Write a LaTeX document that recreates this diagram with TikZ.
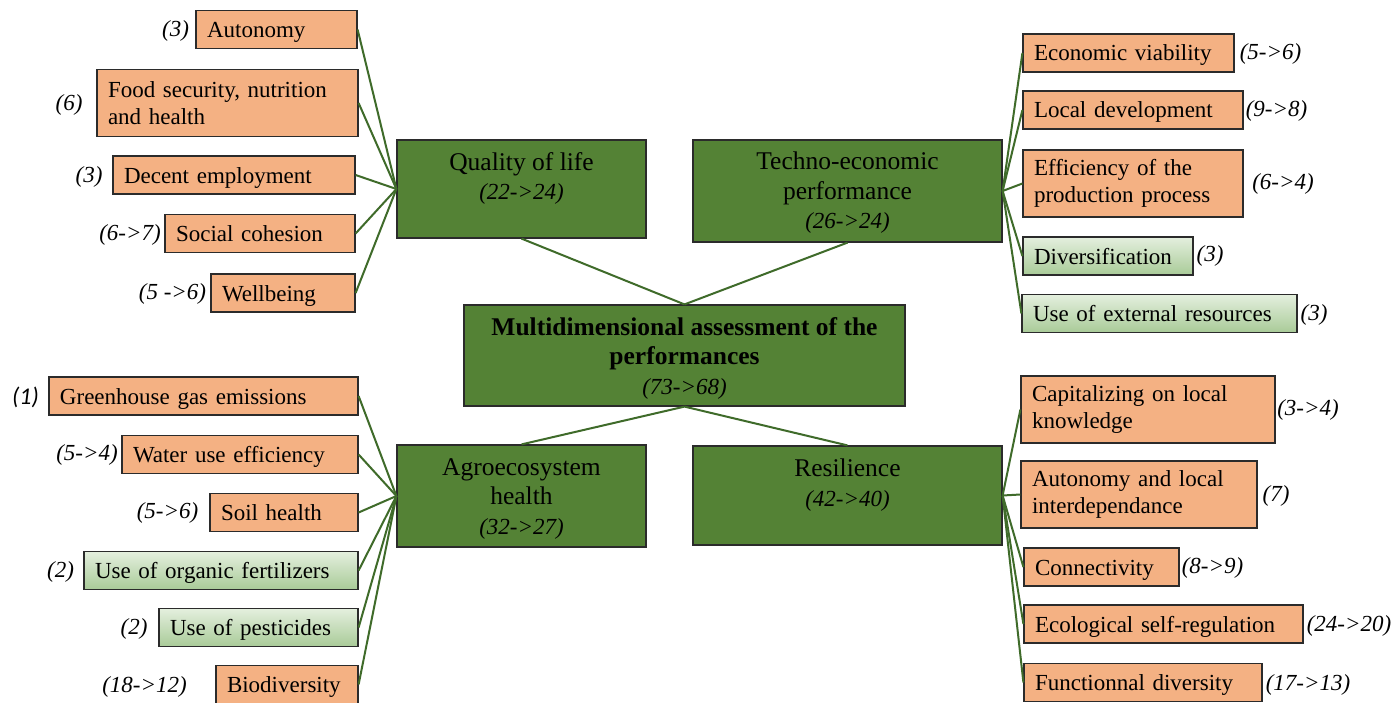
\documentclass[tikz,border=0pt]{standalone}
\usepackage{fontspec}
\setmainfont{Liberation Serif}
\newfontfamily\calibfont{Carlito}
\definecolor{catgreen}{HTML}{548235}
\definecolor{leaforange}{HTML}{F4B183}
\definecolor{leafgtop}{HTML}{E4EFDE}
\definecolor{leafgbot}{HTML}{A9CB98}
\definecolor{conngreen}{HTML}{3F6B2A}
\definecolor{boxline}{HTML}{2B2B2B}
\newcommand\catfont{\fontsize{25.5bp}{29.5bp}\selectfont}
\newcommand\leaffont{\fontsize{23bp}{27.5bp}\selectfont}
\newcommand\labfont{\fontsize{23bp}{27bp}\selectfont\itshape}
\newcommand\catit[1]{{\fontsize{23bp}{29.5bp}\selectfont\itshape #1}}
\tikzset{
  cat/.style={draw=boxline, line width=1.2bp, fill=catgreen, inner sep=0pt},
  cattext/.style={anchor=north, inner sep=0pt, align=center, font=\catfont},
  leaf/.style={draw=boxline, line width=1.2bp, fill=leaforange, inner xsep=11bp, inner ysep=0pt,
    align=left, font=\leaffont},
  gleaf/.style={leaf, top color=leafgtop, bottom color=leafgbot},
  oneline/.style={text height=19bp, text depth=3bp, minimum height=38bp},
  twoline/.style={minimum height=67bp},
  lab/.style={inner sep=0pt, font=\labfont},
  conn/.style={draw=conngreen, line width=2bp},
}
\begin{document}
\begin{tikzpicture}[x=1bp,y=-1bp]
\useasboundingbox (0,0) rectangle (1394,702);
\fill[white] (0,0) rectangle (1394,702);

% category boxes
\node[cat, minimum width=249bp, minimum height=98bp]  (q) at (521.5,189) {};
\node[cat, minimum width=309bp, minimum height=102bp] (t) at (847.5,191) {};
\node[cat, minimum width=441bp, minimum height=101bp] (m) at (684.5,355.5) {};
\node[cat, minimum width=249bp, minimum height=102bp] (a) at (521.5,496) {};
\node[cat, minimum width=309bp, minimum height=99bp]  (r) at (847.5,495.5) {};

\node[cattext] (qt) at ([yshift=-12.5bp]q.north) {Quality of life\\\catit{(22->24)}};
\node[cattext] (tt) at ([yshift=-12.5bp]t.north) {Techno-economic\\performance\\\catit{(26->24)}};
\node[cattext] (mt) at ([yshift=-12.5bp]m.north) {\textbf{Multidimensional assessment of the}\\\textbf{performances}\\\catit{(73->68)}};
\node[cattext] (at) at ([yshift=-14bp]a.north) {Agroecosystem\\health\\\catit{(32->27)}};
\node[cattext] (rt) at ([yshift=-13.5bp]r.north) {Resilience\\\catit{(42->40)}};

% quality of life leaves
\node[leaf, oneline, text width=139bp] (a1) at (276.5,29.5) {Autonomy};
\node[leaf, twoline, text width=239bp] (a2) at (227.5,103) {Food security, nutrition\\and health};
\node[leaf, oneline, text width=220bp] (a3) at (234,175) {Decent employment};
\node[leaf, oneline, text width=168bp] (a4) at (260,233.5) {Social cohesion};
\node[leaf, oneline, text width=122bp] (a5) at (283,293) {Wellbeing};

% agroecosystem leaves
\node[leaf, oneline, text width=287bp] (b1) at (203.5,396) {Greenhouse gas emissions};
\node[leaf, oneline, text width=214bp] (b2) at (240,454.5) {Water use efficiency};
\node[leaf, oneline, text width=126bp] (b3) at (284,512.5) {Soil health};
\node[gleaf, oneline, text width=252bp] (b4) at (221,570.5) {Use of organic fertilizers};
\node[gleaf, oneline, text width=177bp] (b5) at (258.5,627.5) {Use of pesticides};
\node[leaf, oneline, text width=120bp] (b6) at (287,684.5) {Biodiversity};

% techno-economic leaves
\node[leaf, oneline, text width=189bp] (c1) at (1128.5,53) {Economic viability};
\node[leaf, oneline, text width=198bp] (c2) at (1133,110) {Local development};
\node[leaf, twoline, text width=198bp] (c3) at (1133,183.5) {Efficiency of the\\production process};
\node[gleaf, oneline, text width=148bp] (c4) at (1108,256) {Diversification};
\node[gleaf, oneline, text width=253bp] (c5) at (1159.5,313.5) {Use of external resources};

% resilience leaves
\node[leaf, twoline, text width=232bp] (d1) at (1148,409.5) {Capitalizing on local\\knowledge};
\node[leaf, twoline, text width=214bp] (d2) at (1139,494.5) {Autonomy and local\\interdependance};
\node[leaf, oneline, text width=133bp] (d3) at (1101.5,567) {Connectivity};
\node[leaf, oneline, text width=257bp] (d4) at (1163.5,624) {Ecological self-regulation};
\node[leaf, oneline, text width=216bp] (d5) at (1143,682.5) {Functionnal diversity};

% labels
\node[lab] (la1) at (175.5,31) {(3)};
\node[lab] (la2) at (69,105) {(6)};
\node[lab] (la3) at (89,177) {(3)};
\node[lab] (la4) at (130,235) {(6->7)};
\node[lab] (la5) at (172.5,294) {(5 ->6)};
\node[inner sep=0pt, font={\fontsize{24bp}{28bp}\selectfont\calibfont\itshape}] (lb1) at (25.5,397) {(1)};
\node[lab] (lb2) at (87,455) {(5->4)};
\node[lab] (lb3) at (167.5,513) {(5->6)};
\node[lab] (lb4) at (60.5,572) {(2)};
\node[lab] (lb5) at (134,629) {(2)};
\node[lab] (lb6) at (144.5,687) {(18->12)};
\node[lab] (lc1) at (1270.5,54) {(5->6)};
\node[lab] (lc2) at (1276.5,111) {(9->8)};
\node[lab] (lc3) at (1283,184) {(6->4)};
\node[lab] (lc4) at (1210,256) {(3)};
\node[lab] (lc5) at (1314,315) {(3)};
\node[lab] (ld1) at (1308,410) {(3->4)};
\node[lab] (ld2) at (1276,496) {(7)};
\node[lab] (ld3) at (1212.5,568) {(8->9)};
\node[lab] (ld4) at (1349,626) {(24->20)};
\node[lab] (ld5) at (1308,685) {(17->13)};

% connectors
\draw[conn] (q.south) -- (m.north);
\draw[conn] (t.south) -- (m.north);
\draw[conn] (a.north) -- (m.south);
\draw[conn] (r.north) -- (m.south);
\foreach \n in {a1,a2,a3,a4,a5} \draw[conn] (q.west) -- (\n.east);
\foreach \n in {b1,b2,b3,b4,b5,b6} \draw[conn] (a.west) -- (\n.east);
\foreach \n in {c1,c2,c3,c4,c5} \draw[conn] (t.east) -- (\n.west);
\foreach \n in {d1,d2,d3,d4,d5} \draw[conn] (r.east) -- (\n.west);
\end{tikzpicture}
\end{document}
